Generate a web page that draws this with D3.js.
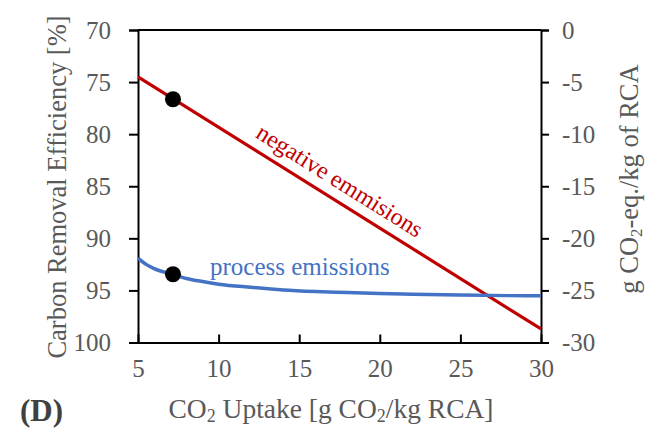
<!DOCTYPE html>
<html lang="en">
<head>
<meta charset="utf-8">
<script src="https://d3js.org/d3.v7.min.js"></script>
<style>
  body { margin: 0; background: #fff; }
</style>
</head>
<body>
<script>
var width = 651;
var height = 434;
var serif = "'Liberation Serif'";

// data
var xTicks = [5, 10, 15, 20, 25, 30];
var leftTicks = [70, 75, 80, 85, 90, 95, 100];
var rightTicks = [0, -5, -10, -15, -20, -25, -30];

var negX = [5, 30];
var negY = [-4.5, -28.7];

var procX = [5, 5.5, 6, 7, 8, 9, 10, 12, 14, 16, 18, 20, 22, 25, 28, 30];
var procY = [-21.9, -22.5, -22.9, -23.4, -23.85, -24.15, -24.4, -24.7, -24.95, -25.1, -25.2, -25.3, -25.37, -25.45, -25.5, -25.52];

var markX = [7.17, 7.17];
var markY = [-6.65, -23.45];

var red = "#c00000";
var blue = "#4472c4";
var grey = "#595959";

var svg = d3.select("body").append("svg")
    .attr("width", width)
    .attr("height", height);

var x = d3.scaleLinear().domain([5, 30]).range([138, 541]);
var yL = d3.scaleLinear().domain([70, 100]).range([30, 342.5]);
var yR = d3.scaleLinear().domain([0, -30]).range([30, 342.5]);

// plain hyphen for negatives, like the original
var fmt = function(d) { return String(d); };

// top frame line
svg.append("line")
    .attr("x1", x(5)).attr("x2", x(30))
    .attr("y1", yR(0)).attr("y2", yR(0))
    .attr("stroke", "#000").attr("stroke-width", 2);

function styleAxis(g) {
  g.select(".domain").attr("stroke", "#000").attr("stroke-width", 2);
  g.selectAll(".tick line").attr("stroke", "#000").attr("stroke-width", 2);
  g.selectAll(".tick text")
    .attr("fill", grey)
    .style("font-family", serif)
    .style("font-size", "25px");
}

svg.append("g")
    .attr("transform", "translate(" + x(5) + ",0)")
    .call(d3.axisLeft(yL).tickValues(leftTicks).tickFormat(fmt).tickSize(9).tickSizeOuter(9).tickPadding(18))
    .call(styleAxis);

svg.append("g")
    .attr("transform", "translate(" + x(30) + ",0)")
    .call(d3.axisRight(yR).tickValues(rightTicks).tickFormat(fmt).tickSize(8).tickSizeOuter(8).tickPadding(13))
    .call(styleAxis);

svg.append("g")
    .attr("transform", "translate(0," + yR(-30) + ")")
    .call(d3.axisBottom(x).tickValues(xTicks).tickFormat(fmt).tickSize(-8).tickSizeOuter(0).tickPadding(17))
    .call(styleAxis);

// lines
svg.append("path")
    .datum(negX.map(function(d, i) { return [d, negY[i]]; }))
    .attr("fill", "none")
    .attr("stroke", red)
    .attr("stroke-width", 3.2)
    .attr("d", d3.line().x(function(d) { return x(d[0]); }).y(function(d) { return yR(d[1]); }));

svg.append("path")
    .datum(procX.map(function(d, i) { return [d, procY[i]]; }))
    .attr("fill", "none")
    .attr("stroke", blue)
    .attr("stroke-width", 3.5)
    .attr("d", d3.line().curve(d3.curveMonotoneX).x(function(d) { return x(d[0]); }).y(function(d) { return yR(d[1]); }));

svg.selectAll("circle.mark")
    .data(markX)
    .enter().append("circle")
    .attr("class", "mark")
    .attr("cx", function(d) { return x(d); })
    .attr("cy", function(d, i) { return yR(markY[i]); })
    .attr("r", 8)
    .attr("fill", "#000");

// line labels
var ang = Math.atan2(yR(negY[1]) - yR(negY[0]), x(negX[1]) - x(negX[0])) * 180 / Math.PI;
var lx = 16.9;
var ly = negY[0] + (negY[1] - negY[0]) * (lx - negX[0]) / (negX[1] - negX[0]);
var off = 11;
svg.append("text")
    .attr("transform", "translate(" + (x(lx) + off * Math.sin(ang * Math.PI / 180)) + "," +
          (yR(ly) - off * Math.cos(ang * Math.PI / 180)) + ") rotate(" + ang + ")")
    .attr("text-anchor", "middle")
    .style("font-family", serif)
    .style("fill", red)
    .style("font-size", "24px")
    .text("negative emmisions");

svg.append("text")
    .attr("x", 210)
    .attr("y", 275)
    .style("font-family", serif)
    .style("fill", blue)
    .style("font-size", "25px")
    .text("process emissions");

// axis titles
svg.append("text")
    .attr("transform", "translate(66,187) rotate(-90)")
    .attr("text-anchor", "middle")
    .style("font-family", serif)
    .style("fill", grey)
    .style("font-size", "26.5px")
    .text("Carbon Removal Efficiency [%]");

var rt = svg.append("text")
    .attr("transform", "translate(638,179) rotate(-90)")
    .attr("text-anchor", "middle")
    .style("font-family", serif)
    .style("fill", grey)
    .style("font-size", "26.5px");
rt.append("tspan").text("g CO");
rt.append("tspan").attr("dy", 4).style("font-size", "17px").text("2");
rt.append("tspan").attr("dy", -4).text("-eq./kg of RCA");

var bt = svg.append("text")
    .attr("x", 331)
    .attr("y", 418)
    .attr("text-anchor", "middle")
    .style("font-family", serif)
    .style("fill", grey)
    .style("font-size", "27.5px");
bt.append("tspan").text("CO");
bt.append("tspan").attr("dy", 4).style("font-size", "18px").text("2");
bt.append("tspan").attr("dy", -4).text(" Uptake [g CO");
bt.append("tspan").attr("dy", 4).style("font-size", "18px").text("2");
bt.append("tspan").attr("dy", -4).text("/kg RCA]");

svg.append("text")
    .attr("x", 20)
    .attr("y", 421)
    .style("font-family", serif)
    .style("font-size", "31px")
    .style("font-weight", "bold")
    .style("fill", "#404040")
    .text("(D)");
</script>
</body>
</html>
